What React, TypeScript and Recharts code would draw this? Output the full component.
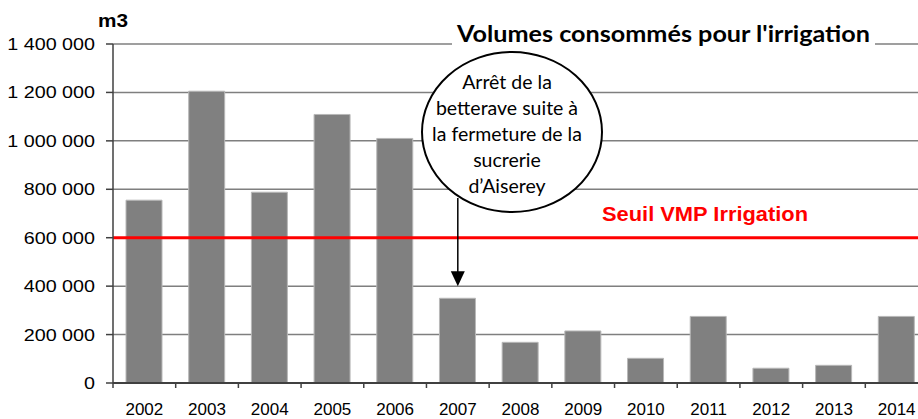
import React from 'react';
import { BarChart, Bar, XAxis, YAxis, CartesianGrid, ReferenceLine } from 'recharts';

const years = ['2002', '2003', '2004', '2005', '2006', '2007', '2008', '2009', '2010', '2011', '2012', '2013', '2014'];
const volumes = [755000, 1205000, 788000, 1109000, 1010000, 350000, 168000, 215000, 102000, 275000, 61000, 73000, 275000];
const yTicks = [0, 200000, 400000, 600000, 800000, 1000000, 1200000, 1400000];
const threshold = 600000;
const arrowFrom = 764000;
const arrowTo = 400000;
const noteLines = ['Arrêt de la', 'betterave suite à', 'la fermeture de la', 'sucrerie', 'd’Aiserey'];
const title = "Volumes consommés pour l'irrigation";
const thresholdLabel = 'Seuil VMP Irrigation';
const unitLabel = 'm3';

const data = years.map((y, i) => ({ year: y, v: volumes[i] }));

const CHART_W = 928;
const CHART_H = 419;
const Y_AXIS_W = 113;
const BAND = (CHART_W - Y_AXIS_W) / years.length;
const NUM_FONT = '"Liberation Sans", Arial, sans-serif';

const fmt = (v: number) => String(v).replace(/\B(?=(\d{3})+(?!\d))/g, ' ');

const XTick = (props: any) => {
  const { x, y, payload } = props;
  return (
    <g>
      <line x1={x - BAND / 2} x2={x - BAND / 2} y1={y} y2={y + 5} stroke="#404040" strokeWidth={1.5} />
      <text x={x} y={y + 32} textAnchor="middle" fontFamily={NUM_FONT} fontSize={17} fill="#000">
        {payload.value}
      </text>
    </g>
  );
};

const YTick = (props: any) => {
  const { x, y, payload } = props;
  return (
    <text
      transform={`translate(${x},${y}) scale(1.16,1)`}
      x={0}
      y={6}
      textAnchor="end"
      fontFamily={NUM_FONT}
      fontSize={17}
      fill="#000"
    >
      {fmt(payload.value)}
    </text>
  );
};

const Arrow = (props: any) => {
  const { x1, y1, x2, y2 } = props;
  return (
    <g>
      <line x1={x1} y1={y1} x2={x2} y2={y2 - 14} stroke="#000" strokeWidth={1.5} />
      <polygon points={`${x2 - 7},${y2 - 15} ${x2 + 7},${y2 - 15} ${x2},${y2}`} fill="#000" />
    </g>
  );
};

export default function App() {
  return (
    <div style={{ position: 'fixed', left: 0, top: 0, width: 918, height: 419, overflow: 'hidden', background: '#fff' }}>
      <BarChart width={CHART_W} height={CHART_H} data={data} margin={{ top: 44, right: 0, bottom: 0, left: 0 }}>
        <CartesianGrid vertical={false} stroke="#7f7f7f" strokeWidth={1.5} />
        <XAxis
          dataKey="year"
          height={36}
          tickSize={0}
          tickMargin={0}
          tickLine={false}
          axisLine={{ stroke: '#404040', strokeWidth: 2 }}
          tick={<XTick />}
          interval={0}
        />
        <YAxis
          width={Y_AXIS_W}
          domain={[0, 1400000]}
          ticks={yTicks}
          interval={0}
          tickSize={7}
          tickMargin={11}
          axisLine={{ stroke: '#404040', strokeWidth: 1.5 }}
          tickLine={{ stroke: '#404040', strokeWidth: 1.5 }}
          tick={<YTick />}
        />
        <Bar dataKey="v" fill="#808080" stroke="#b8b8b8" strokeWidth={1} barSize={36} isAnimationActive={false} />
        <ReferenceLine y={threshold} stroke="#ff0000" strokeWidth={3} />
        <ReferenceLine
          segment={[{ x: '2007', y: arrowFrom }, { x: '2007', y: arrowTo }]}
          shape={<Arrow />}
        />
      </BarChart>
      <svg width={918} height={419} style={{ position: 'absolute', left: 0, top: 0, pointerEvents: 'none' }}>
        <text x={98} y={27} fontFamily={NUM_FONT} fontWeight="bold" fontSize={18} fill="#000" textLength={30} lengthAdjust="spacingAndGlyphs">{unitLabel}</text>
        <rect x={452} y={30} width={423} height={24} fill="#fff" />
        <text x={457} y={42} fontFamily="Lato, sans-serif" fontWeight="bold" fontSize={23} fill="#000" textLength={413} lengthAdjust="spacingAndGlyphs">{title}</text>
        <ellipse cx={512} cy={132} rx={90} ry={80} fill="#fff" stroke="#000" strokeWidth={2} />
        {noteLines.map((t, i) => (
          <text key={i} x={507} y={89 + i * 26} textAnchor="middle" fontFamily="Lato, sans-serif" fontSize={19.5} fill="#000">{t}</text>
        ))}
        <text x={602} y={221} fontFamily={NUM_FONT} fontWeight="bold" fontSize={21} fill="#ff0000" textLength={206} lengthAdjust="spacingAndGlyphs">{thresholdLabel}</text>
      </svg>
    </div>
  );
}
